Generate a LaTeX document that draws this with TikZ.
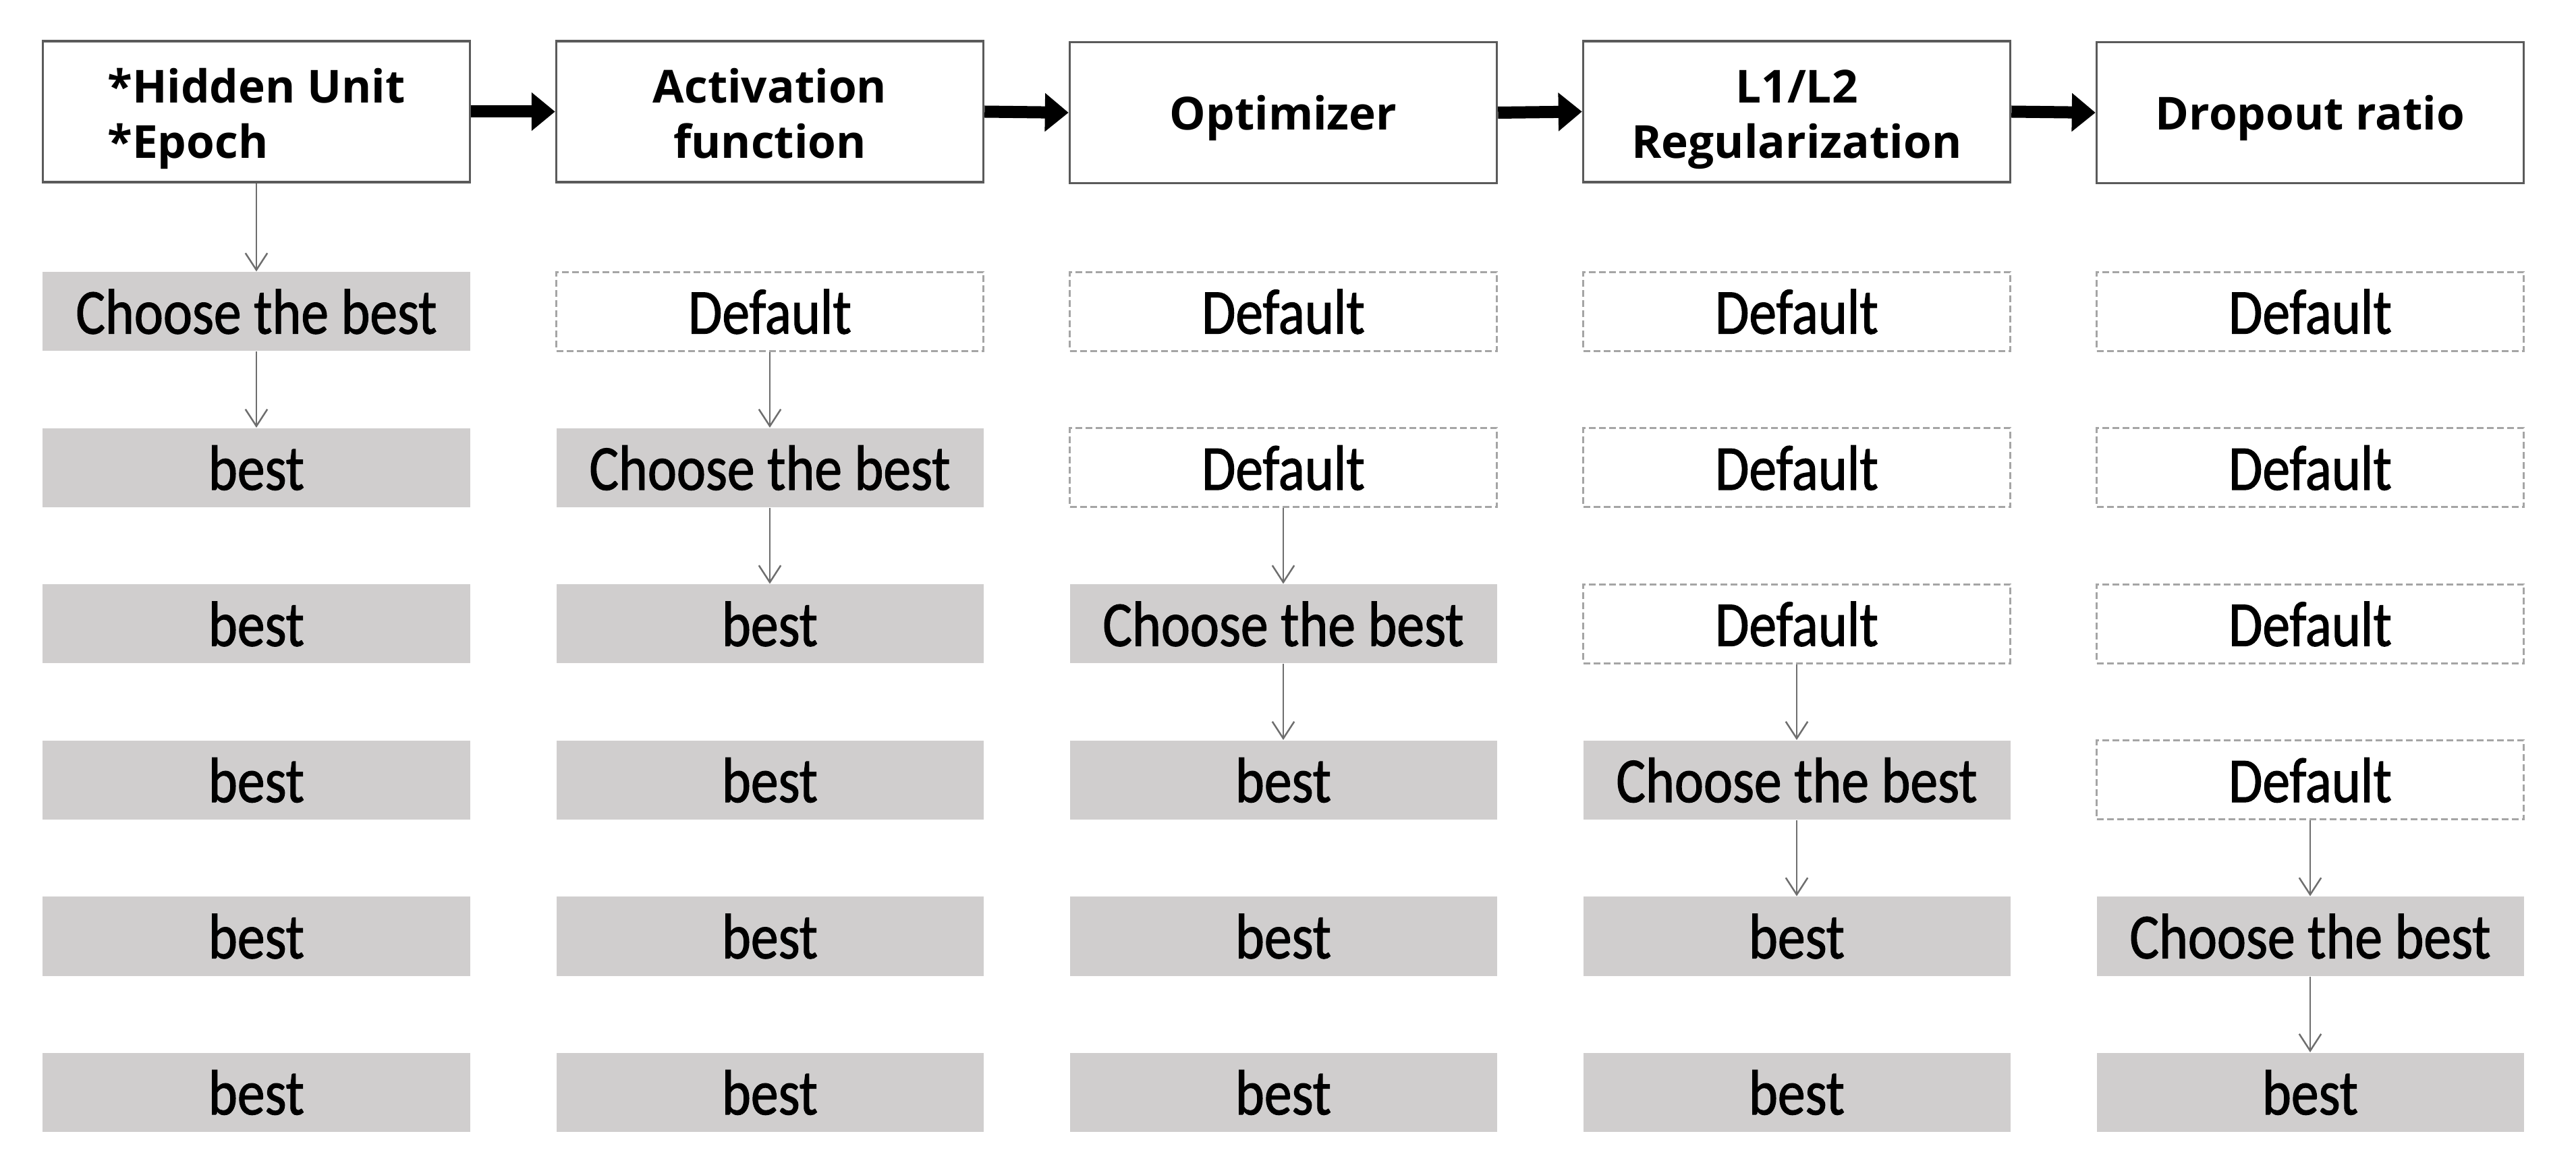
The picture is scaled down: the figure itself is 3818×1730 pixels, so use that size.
\documentclass[tikz,border=0pt]{standalone}
\usepackage{fontspec}
\setmainfont{Carlito}
\newfontfamily\headfont{Open Sans}
\newfontfamily\cellfont[FakeStretch=0.86,FakeBold=1.2]{Carlito}
\usetikzlibrary{arrows.meta,positioning}
\definecolor{cellgray}{RGB}{208,206,206}
\definecolor{dashgray}{RGB}{165,165,165}
\definecolor{framegray}{RGB}{90,90,90}
\definecolor{linkgray}{RGB}{110,110,110}
\newcommand{\headstrut}{\rule{0pt}{13.6pt}}
\newcommand{\twostrut}{\rule{0pt}{14.6pt}}
\newcommand{\taildepth}{\rule[-3.4pt]{0pt}{3.4pt}}

\tikzset{
  stagebox/.style={draw=framegray, line width=0.7pt, minimum width=126.6pt, minimum height=41.8pt,
    inner sep=0pt, align=center, font=\headfont\bfseries\fontsize{13.5}{16.4}\selectfont},
  bestbox/.style={fill=cellgray, minimum width=126.6pt, minimum height=23.4pt, inner sep=0pt,
    font=\cellfont\fontsize{19}{22}\selectfont},
  dfltbox/.style={bestbox, fill=none, draw=dashgray, line width=0.6pt, dash pattern={on 2pt off 1pt}},
  flow/.style={-{Triangle[length=7pt,width=11pt]}, line width=3.6pt},
  pick/.style={-{Straight Barb[length=5pt,width=6.5pt]}, draw=linkgray, line width=0.5pt}
}

\begin{document}
\begin{tikzpicture}[x=0.2pt,y=0.2pt,yscale=-1,xscale=1]
    \useasboundingbox (0,0) rectangle (3818,1730); %same size as the source picture

    % Stage boxes
    \node [stagebox, align=left] (h1) at (380,165.5) {\twostrut*Hidden Unit\\\relax *Epoch\taildepth};
    \node [stagebox] (h2) at (1141,165.5) {\twostrut Activation\\function\taildepth};
    \node [stagebox] (h3) at (1902,167) {\headstrut Optimizer};
    \node [stagebox] (h4) at (2663,165.5) {\twostrut L1/L2\\Regularization\taildepth};
    \node [stagebox] (h5) at (3424,167) {\headstrut Dropout ratio};

    % Stage order
    \draw [flow] (h1.east) -- (h2.west);
    \draw [flow] (h2.east) -- (h3.west);
    \draw [flow] (h3.east) -- (h4.west);
    \draw [flow] (h4.east) -- (h5.west);

    % Column 1
    \node [bestbox] (a1) at (380,462) {Choose the best};
    \node [bestbox] (a2) at (380,693.5) {best};
    \node [bestbox] (a3) at (380,925) {best};
    \node [bestbox] (a4) at (380,1156.5) {best};
    \node [bestbox] (a5) at (380,1388) {best};
    \node [bestbox] (a6) at (380,1619.5) {best};

    % Column 2
    \node [dfltbox] (b1) at (1141,462) {Default};
    \node [bestbox] (b2) at (1141,693.5) {Choose the best};
    \node [bestbox] (b3) at (1141,925) {best};
    \node [bestbox] (b4) at (1141,1156.5) {best};
    \node [bestbox] (b5) at (1141,1388) {best};
    \node [bestbox] (b6) at (1141,1619.5) {best};

    % Column 3
    \node [dfltbox] (c1) at (1902,462) {Default};
    \node [dfltbox] (c2) at (1902,693.5) {Default};
    \node [bestbox] (c3) at (1902,925) {Choose the best};
    \node [bestbox] (c4) at (1902,1156.5) {best};
    \node [bestbox] (c5) at (1902,1388) {best};
    \node [bestbox] (c6) at (1902,1619.5) {best};

    % Column 4
    \node [dfltbox] (d1) at (2663,462) {Default};
    \node [dfltbox] (d2) at (2663,693.5) {Default};
    \node [dfltbox] (d3) at (2663,925) {Default};
    \node [bestbox] (d4) at (2663,1156.5) {Choose the best};
    \node [bestbox] (d5) at (2663,1388) {best};
    \node [bestbox] (d6) at (2663,1619.5) {best};

    % Column 5
    \node [dfltbox] (e1) at (3424,462) {Default};
    \node [dfltbox] (e2) at (3424,693.5) {Default};
    \node [dfltbox] (e3) at (3424,925) {Default};
    \node [dfltbox] (e4) at (3424,1156.5) {Default};
    \node [bestbox] (e5) at (3424,1388) {Choose the best};
    \node [bestbox] (e6) at (3424,1619.5) {best};

    % Thin links
    \draw [pick] (h1.south) -- (a1.north);
    \draw [pick] (a1.south) -- (a2.north);
    \draw [pick] (b1.south) -- (b2.north);
    \draw [pick] (b2.south) -- (b3.north);
    \draw [pick] (c2.south) -- (c3.north);
    \draw [pick] (c3.south) -- (c4.north);
    \draw [pick] (d3.south) -- (d4.north);
    \draw [pick] (d4.south) -- (d5.north);
    \draw [pick] (e4.south) -- (e5.north);
    \draw [pick] (e5.south) -- (e6.north);

\end{tikzpicture}
\end{document}
